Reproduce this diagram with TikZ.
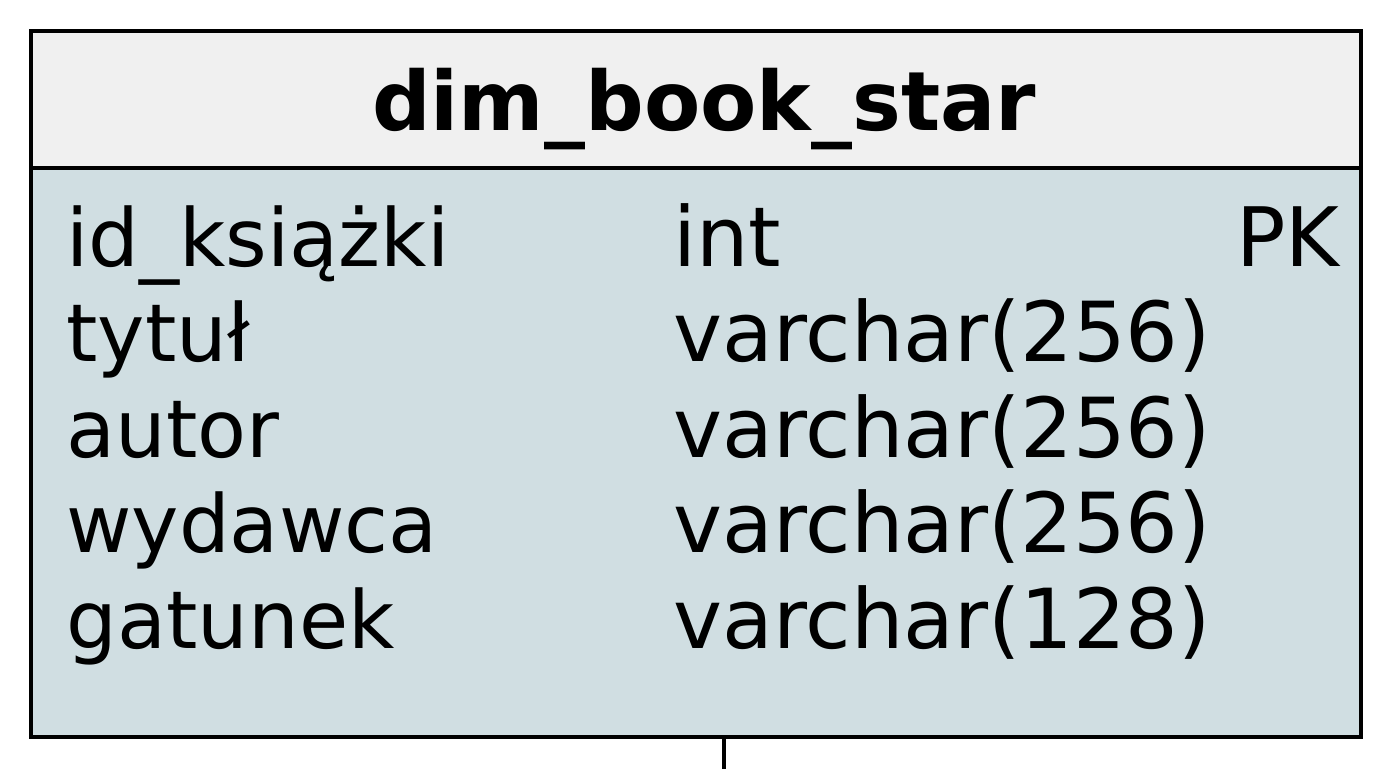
\documentclass[tikz,border=0pt]{standalone}
\usepackage{fontspec}
\setmainfont{DejaVu Sans}
\definecolor{hdrfill}{HTML}{F0F0F0}
\definecolor{bodyfill}{HTML}{D0DEE2}
\begin{document}
\begin{tikzpicture}[x=0.5pt,y=-0.5pt,
  boxline/.style={line width=2pt,draw=black},
  hdrbox/.style={boxline,fill=hdrfill,minimum width=665pt,minimum height=68.5pt,inner sep=0pt,outer sep=0pt},
  bodybox/.style={boxline,fill=bodyfill,minimum width=665pt,minimum height=284.5pt,inner sep=0pt,outer sep=0pt},
  field/.style={anchor=base west,inner sep=0pt,font=\fontsize{40}{48}\selectfont},
  ftype/.style={anchor=base west,inner sep=0pt,font=\fontsize{41.4}{49}\selectfont},
  fkey/.style={anchor=base east,inner sep=0pt,font=\fontsize{41}{49}\selectfont},
  title/.style={anchor=base,inner sep=0pt,font=\fontsize{41}{49}\selectfont\bfseries},
  link/.style={line width=2pt}]
\useasboundingbox (0,0) rectangle (1399,768);
\node[bodybox] (body) at (696,452.5) {};
\node[hdrbox] (hdr) at (696,99.5) {};
\node[title] (ttl) at (704,130) {dim\_book\_star};
\node[field] (f1) at (66,266) {id\_książki};
\node[field] (f2) at (66,361.5) {tytuł};
\node[field] (f3) at (66,457) {autor};
\node[field] (f4) at (66,552.5) {wydawca};
\node[field] (f5) at (66,648) {gatunek};
\node[ftype] (t1) at (673,266) {int};
\node[ftype] (t2) at (673,361.5) {varchar(256)};
\node[ftype] (t3) at (673,457) {varchar(256)};
\node[ftype] (t4) at (673,552.5) {varchar(256)};
\node[ftype] (t5) at (673,648) {varchar(128)};
\node[fkey] (k1) at (1340,266) {PK};
\coordinate (linkend) at (723.5,775);
\draw[link] (body.south -| linkend) -- (linkend);
\end{tikzpicture}
\end{document}
